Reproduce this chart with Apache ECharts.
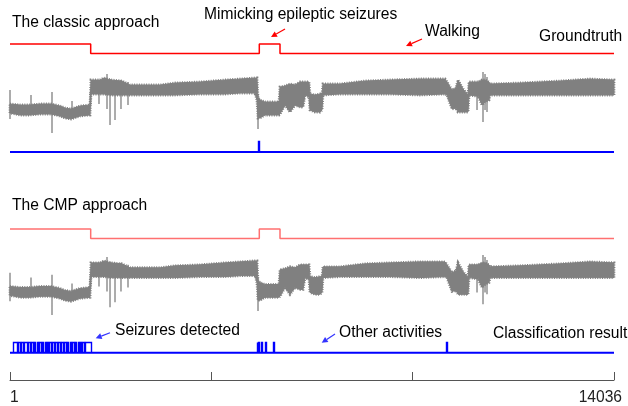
<!DOCTYPE html>
<html><head><meta charset="utf-8">
<script src="https://cdn.jsdelivr.net/npm/echarts@6/dist/echarts.min.js"></script>
<style>html,body{margin:0;padding:0;background:#fff}#c{width:628px;height:406px}</style>
</head><body><div id="c"></div>
<script>
// ---- data (sample index 1..14036) ----
// envelope of the accelerometer-like signal (upper / lower edge of the dense trace)
const sampleIdx = [1,233,466,698,954,1163,1279,1418,1628,1860,1883,2092,2185,2348,2604,2789,3138,3487,3835,4416,4997,5345,5694,5740,5764,5810,5926,6252,6275,6391,6507,6624,6740,6810,6856,6949,6972,7088,7204,7251,7274,7669,8250,8831,9528,10109,10156,10272,10365,10411,10528,10644,10667,10830,10876,10969,11039,11132,11155,11852,12781,13478,14036];
const signalHi  = [26,25,25,26,26,24,22,21,24,25,50,50,52,50,49,45,45,45,47,48,50,51,52,52,32,30,28,28,43,44,46,45,48,48,48,48,36,35,36,36,46,46,49,50,51,51,48,40,42,50,41,35,48,48,48,50,50,48,46,47,49,51,50];
const signalLo  = [17,15,15,16,16,14,12,11,14,15,36,36,36,35,35,35,35,35,35,36,36,37,37,30,12,12,15,15,16,25,18,25,23,23,35,33,20,18,18,20,35,36,36,36,35,36,35,21,22,18,18,18,35,34,34,25,28,30,35,35,35,35,35];
// isolated spikes of the signal: [sample, top, bottom]
const spikeIdx = [1,489,977,1442,2069,2255,2325,2441,2580,2743,5764,10853,10992,11039,11085];
const spikeHi  = [40,35,38,29,50,56,51,50,50,48,35,48,58,56,53];
const spikeLo  = [11,25,-3,21,26,21,5,10,21,25,1,20,8,20,18];
// groundtruth (1 = seizure-like episode)
const gtChange = [1, 1876, 5794, 6275, 14036];
const gtLabel  = [1, 0, 1, 0, 0];
// classification results: detected intervals [start, end]
const classicDetections = [[5760, 5785]];
const cmpDetections = [[71,164],[187,233],[257,303],[326,396],[419,466],[489,535],[570,593],[628,652],[686,710],[745,768],[803,826],[861,884],[907,954],[977,1023],[1047,1093],[1116,1163],[1186,1233],[1256,1302],[1337,1360],[1395,1418],[1453,1477],[1511,1535],[1570,1593],[1628,1651],[1674,1721],[1744,1876],[5729,5752],[5775,5798],[5834,5852],[5915,5938],[6112,6135],[10140,10160]];
const axisTickValues = [1, 4679.33, 9357.67, 14036];
const axisLabelValues = [1, 14036];

// ---- builders ----
const gtData = gtChange.map((x, i) => [x, gtLabel[i]]);
const spikeData = [];
spikeIdx.forEach((x, i) => { spikeData.push([x, spikeHi[i]], [x, spikeLo[i]], null); });

const FONT = 'Liberation Sans, Arial, Helvetica, sans-serif';
const L = 10, R = 14;
const grids = [
  {top: 44, height: 9.5},    // 0 red classic
  {top: 70, height: 65},     // 1 gray classic
  {top: 141, height: 11},    // 2 blue classic
  {top: 229, height: 9.5},   // 3 red cmp
  {top: 253, height: 64},    // 4 gray cmp
  {top: 341.7, height: 11},  // 5 blue cmp
  {top: 360, height: 20}     // 6 axis
].map(g => Object.assign({left: L, right: R, containLabel: false}, g));

const xAxes = grids.map((g, i) => ({
  gridIndex: i, type: 'value', min: 1, max: 14036,
  show: i === 6, position: 'bottom',
  axisLine: {show: true, onZero: false, lineStyle: {color: '#555', width: 1}},
  axisTick: {show: true, inside: true, length: 8, customValues: axisTickValues, lineStyle: {color: '#555'}},
  axisLabel: {show: true, customValues: axisLabelValues, color: '#222', fontSize: 15.6, fontFamily: FONT, margin: 10,
              alignMinLabel: 'left', alignMaxLabel: 'right', padding: [0, -8, 0, 0],
              formatter: v => String(Math.round(v))},
  splitLine: {show: false}
}));
const yRange = [[0,1],[-5,60],[0,1],[0,1],[-5,60],[0,1],[0,1]];
const yAxes = grids.map((g, i) => ({gridIndex: i, type: 'value', show: false, min: yRange[i][0], max: yRange[i][1], splitLine: {show: false}}));

function bandSeries(gi) {
  return {
    type: 'custom', xAxisIndex: gi, yAxisIndex: gi, data: [[1, 0]], silent: true, clip: false,
    renderItem: function (params, api) {
      const pts = [];
      for (let i = 0; i < sampleIdx.length; i++) pts.push(api.coord([sampleIdx[i], signalHi[i]]));
      for (let i = sampleIdx.length - 1; i >= 0; i--) pts.push(api.coord([sampleIdx[i], signalLo[i]]));
      return {type: 'group', children: [
        {type: 'polygon', shape: {points: pts}, style: {fill: '#808080', stroke: '#808080', lineWidth: 1}},
        {type: 'polygon', shape: {points: pts}, style: {fill: null, stroke: '#808080', lineWidth: 2.8, lineDash: [1, 1.4]}}
      ]};
    }
  };
}
function spikeSeries(gi) {
  return {type: 'line', xAxisIndex: gi, yAxisIndex: gi, data: spikeData, symbol: 'none', connectNulls: false,
          clip: false, silent: true, lineStyle: {color: '#808080', width: 1.3}};
}
function stepLine(gi, data, color, w) {
  return {type: 'line', xAxisIndex: gi, yAxisIndex: gi, data: data, step: 'end', symbol: 'none',
          clip: false, silent: true, lineStyle: {color: color, width: w}};
}
function pulseSeries(gi, list, color) {
  return {
    type: 'custom', xAxisIndex: gi, yAxisIndex: gi, data: list, encode: {x: [0, 1]}, silent: true, clip: false,
    renderItem: function (params, api) {
      const a = api.coord([api.value(0), 0]), b = api.coord([api.value(1), 1]);
      const x0 = Math.round(a[0]) + 0.5, x1 = Math.max(Math.round(b[0]) + 0.5, x0);
      const yb = a[1], yt = Math.round(b[1]) + 0.5;
      return {type: 'polyline', shape: {points: [[x0, yb], [x0, yt], [x1, yt], [x1, yb]]},
              style: {stroke: color, lineWidth: 1.4, fill: null}};
    }
  };
}

function arrow(x1, y1, x2, y2, color) {
  const dx = x2 - x1, dy = y2 - y1, len = Math.hypot(dx, dy), ux = dx / len, uy = dy / len;
  const hl = 6, hw = 3, bx = x2 - ux * hl, by = y2 - uy * hl;
  return [
    {type: 'line', shape: {x1: x1, y1: y1, x2: bx, y2: by}, style: {stroke: color, lineWidth: 1.2}},
    {type: 'polygon', shape: {points: [[x2, y2], [bx - uy * hw, by + ux * hw], [bx + uy * hw, by - ux * hw]]}, style: {fill: color}}
  ];
}
function label(text, x, y) {
  return {type: 'text', x: x, y: y, style: {text: text, fill: '#000', font: '15.6px ' + FONT, verticalAlign: 'middle'}};
}

const chart = echarts.init(document.getElementById('c'), null, {renderer: 'canvas'});
chart.setOption({
  animation: false,
  backgroundColor: '#fff',
  grid: grids, xAxis: xAxes, yAxis: yAxes,
  series: [
    stepLine(0, gtData, '#ff0000', 1.5),
    bandSeries(1), spikeSeries(1),
    stepLine(2, [[1, 0], [14036, 0]], '#0000ff', 2),
    pulseSeries(2, classicDetections, '#0000ff'),
    stepLine(3, gtData, '#ff7070', 1.5),
    bandSeries(4), spikeSeries(4),
    stepLine(5, [[1, 0], [14036, 0]], '#0000ff', 2),
    pulseSeries(5, cmpDetections, '#0000ff')
  ],
  graphic: [].concat(
    label('The classic approach', 12, 22.7),
    label('Mimicking epileptic seizures', 204, 14.7),
    label('Walking', 425, 31.7),
    label('Groundtruth', 539, 36.5),
    label('The CMP approach', 12, 205.8),
    label('Seizures detected', 115, 330.5),
    label('Other activities', 339, 332.5),
    label('Classification result', 493, 334),
    arrow(285, 29, 271, 37, '#ff0000'),
    arrow(422, 39, 406, 46, '#ff0000'),
    arrow(110, 332.7, 95.7, 338.3, '#3333ff'),
    arrow(335, 334, 321.7, 342.7, '#3333ff')
  )
});
</script></body></html>
